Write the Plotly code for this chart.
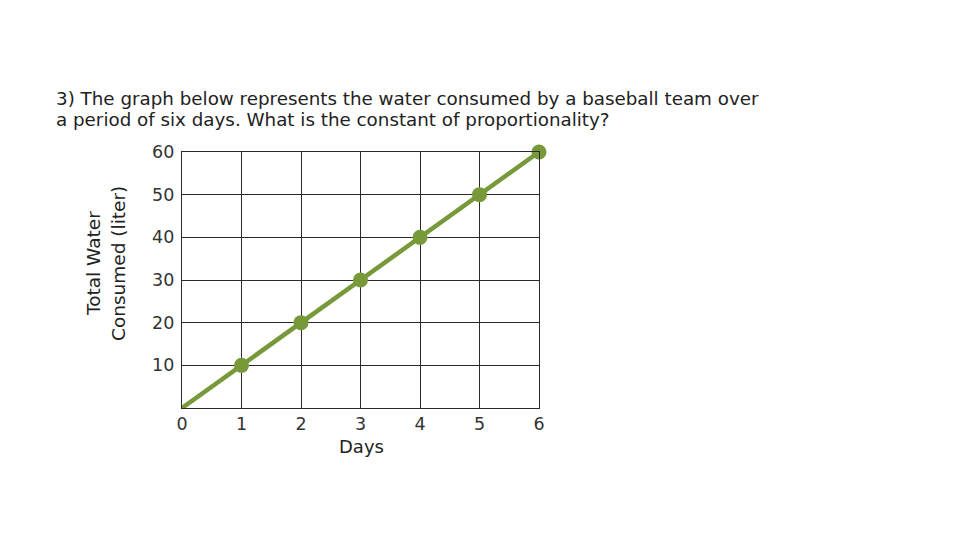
import plotly.graph_objects as go

days = [0, 1, 2, 3, 4, 5, 6]
water = [0, 10, 20, 30, 40, 50, 60]
x_ticks = [0, 1, 2, 3, 4, 5, 6]
y_ticks = [10, 20, 30, 40, 50, 60]

title_lines = ["3) The graph below represents the water consumed by a baseball team over",
               "a period of six days. What is the constant of proportionality?"]
x_title = "Days"
y_title_lines = ["Total Water", "Consumed (liter)"]

green = "#77993a"
grid = "#2a2a2a"
font = "DejaVu Sans, Verdana, sans-serif"

# page body offset (default 8px margin)
OFF = 8
W, H = 960, 540
L, R, T, B = 182 - OFF, W - (539 - OFF), 152 - OFF, H - (408 - OFF)
PW, PH = W - L - R, H - T - B


def px(x):
    return (x - OFF - L) / PW


def py(y):
    return (H - B - (y - OFF)) / PH


fig = go.Figure()
fig.add_trace(go.Scatter(x=days, y=water, mode="lines",
                         line=dict(color=green, width=4.5), cliponaxis=False,
                         hoverinfo="skip"))
fig.add_trace(go.Scatter(x=days[1:], y=water[1:], mode="markers",
                         marker=dict(color=green, size=15), cliponaxis=False))

axis_common = dict(showgrid=True, gridcolor=grid, gridwidth=1.2, showline=True,
                   linecolor=grid, linewidth=1.2, mirror=True, zeroline=False, ticks="",
                   tickfont=dict(size=17.5, family=font, color="#333333"))

fig.update_layout(
    width=W, height=H,
    margin=dict(l=L, r=R, t=T, b=B),
    paper_bgcolor="white", plot_bgcolor="white",
    showlegend=False,
    font=dict(family=font, size=16, color="#222222"),
    xaxis=dict(range=[0, 6], tickvals=x_ticks, ticklabelstandoff=0, **axis_common),
    yaxis=dict(range=[0, 60], tickvals=y_ticks, ticklabelstandoff=3, **axis_common),
)

for line, y in zip(title_lines, [98, 119]):
    fig.add_annotation(text=line, xref="paper", yref="paper", x=px(54), y=py(y),
                       xanchor="left", yanchor="middle", align="left", showarrow=False,
                       font=dict(size=18.3, family=font, color="#222222"))
fig.add_annotation(text=x_title, xref="paper", yref="paper", x=px(361), y=py(446),
                   xanchor="center", yanchor="middle", showarrow=False,
                   font=dict(size=18, family=font, color="#222222"))
for line, x in zip(y_title_lines, [93, 118]):
    fig.add_annotation(text=line, xref="paper", yref="paper", x=px(x), y=py(264),
                       xanchor="center", yanchor="middle", textangle=-90, showarrow=False,
                       font=dict(size=18.5, family=font, color="#222222"))

fig.write_html("out.html")
